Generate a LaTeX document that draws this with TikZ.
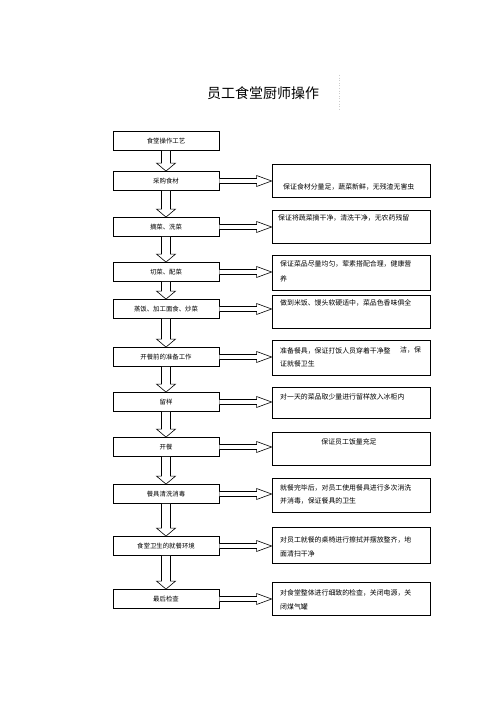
\documentclass[tikz,border=0pt]{standalone}
\usepackage{fontspec}
\newfontfamily\cjk{Noto Sans CJK SC}
\usetikzlibrary{calc}
\tikzset{
  lbox/.style={draw, line width=0.8pt, minimum width=106pt, minimum height=19pt, inner sep=0pt, font=\cjk\fontsize{6.4}{8}\selectfont},
  rbox/.style={draw, line width=0.8pt, minimum width=158pt, inner sep=0pt},
  rtxt/.style={anchor=west, inner sep=0pt, font=\cjk\fontsize{6.9}{8}\selectfont},
  blk/.style={draw, line width=0.6pt, fill=white, line join=miter},
}
\newcommand\dnarrow[2]{\draw[blk] let \p1=(#1.south), \p2=(#2.north) in
  (\x1-4.5pt,\y1) -- (\x1-4.5pt,\y2+8pt) -- (\x1-9.5pt,\y2+8pt) -- (\x1,\y2) -- (\x1+9.5pt,\y2+8pt) -- (\x1+4.5pt,\y2+8pt) -- (\x1+4.5pt,\y1);}
\newcommand\rtarrow[2]{\draw[blk] let \p1=(#1.east), \p2=(#2.west) in
  (\x1,\y1+2.5pt) -- (\x2-15pt,\y1+2.5pt) -- (\x2-15pt,\y1+5.5pt) -- (\x2,\y1) -- (\x2-15pt,\y1-5.5pt) -- (\x2-15pt,\y1-2.5pt) -- (\x1,\y1-2.5pt);}
\begin{document}
\begin{tikzpicture}[x=1pt,y=-1pt]
\useasboundingbox[fill=white] (0,0) rectangle (500,708);
% title
\node[font=\cjk\fontsize{14}{16}\selectfont, inner sep=0pt] (title) at (263,93) {员工食堂厨师操作};
\draw[gray!40, dotted, line width=0.6pt] (339,75) -- (339,110);
% left boxes
\node[lbox] (l0) at (166,141) {食堂操作工艺};
\node[lbox] (l1) at (166,181) {采购食材};
\node[lbox] (l2) at (166,227) {摘菜、洗菜};
\node[lbox] (l3) at (166,272) {切菜、配菜};
\node[lbox] (l4) at (166,309) {蒸饭、加工面食、炒菜};
\node[lbox] (l5) at (166,357) {开餐前的准备工作};
\node[lbox] (l6) at (166,402) {留样};
\node[lbox] (l7) at (166,447) {开餐};
\node[lbox] (l8) at (166,494) {餐具清洗消毒};
\node[lbox] (l9) at (166,546) {食堂卫生的就餐环境};
\node[lbox] (l10) at (166,599) {最后检查};
% right boxes
\node[rbox, minimum height=33pt] (r1) at (351,180.5) {};
\node[rbox, minimum height=33pt] (r2) at (351,226.5) {};
\node[rbox, minimum height=35pt] (r3) at (351,272.5) {};
\node[rbox, minimum height=33pt] (r4) at (351,311.5) {};
\node[rbox, minimum height=35pt] (r5) at (351,357.5) {};
\node[rbox, minimum height=31pt] (r6) at (351,402.5) {};
\node[rbox, minimum height=33pt] (r7) at (351,448.5) {};
\node[rbox, minimum height=34pt] (r8) at (351,495) {};
\node[rbox, minimum height=36pt] (r9) at (351,545) {};
\node[rbox, minimum height=33pt] (r10) at (351,598.5) {};
% right texts
\node[rtxt] (t1) at (283,187) {保证食材分量足，蔬菜新鲜，无残渣无害虫};
\node[rtxt] (t2) at (278,218) {保证将蔬菜摘干净，清洗干净，无农药残留};
\node[rtxt] (t3a) at (280,264) {保证菜品尽量均匀，荤素搭配合理，健康营};
\node[rtxt] (t3b) at (280,279) {养};
\node[rtxt] (t4) at (280,303) {做到米饭、馒头软硬适中，菜品色香味俱全};
\node[rtxt] (t5a) at (280,351) {准备餐具，保证打饭人员穿着干净整};
\node[rtxt] (t5c) at (400,350) {洁，保};
\node[rtxt] (t5b) at (280,364) {证就餐卫生};
\node[rtxt] (t6) at (280,397) {对一天的菜品取少量进行留样放入冰柜内};
\node[rtxt, anchor=center] (t7) at (349,442) {保证员工饭量充足};
\node[rtxt] (t8a) at (280,488) {就餐完毕后，对员工使用餐具进行多次消洗};
\node[rtxt] (t8b) at (280,501) {并消毒，保证餐具的卫生};
\node[rtxt] (t9a) at (280,540) {对员工就餐的桌椅进行擦拭并摆放整齐，地};
\node[rtxt] (t9b) at (280,554) {面清扫干净};
\node[rtxt] (t10a) at (280,593) {对食堂整体进行细致的检查，关闭电源，关};
\node[rtxt] (t10b) at (280,607) {闭煤气罐};
% down arrows
\dnarrow{l0}{l1}
\dnarrow{l1}{l2}
\dnarrow{l2}{l3}
\dnarrow{l3}{l4}
\dnarrow{l4}{l5}
\dnarrow{l5}{l6}
\dnarrow{l6}{l7}
\dnarrow{l7}{l8}
\dnarrow{l8}{l9}
\dnarrow{l9}{l10}
% right arrows
\rtarrow{l1}{r1}
\rtarrow{l2}{r2}
\rtarrow{l3}{r3}
\rtarrow{l4}{r4}
\rtarrow{l5}{r5}
\rtarrow{l6}{r6}
\rtarrow{l7}{r7}
\rtarrow{l8}{r8}
\rtarrow{l9}{r9}
\rtarrow{l10}{r10}
\end{tikzpicture}
\end{document}
